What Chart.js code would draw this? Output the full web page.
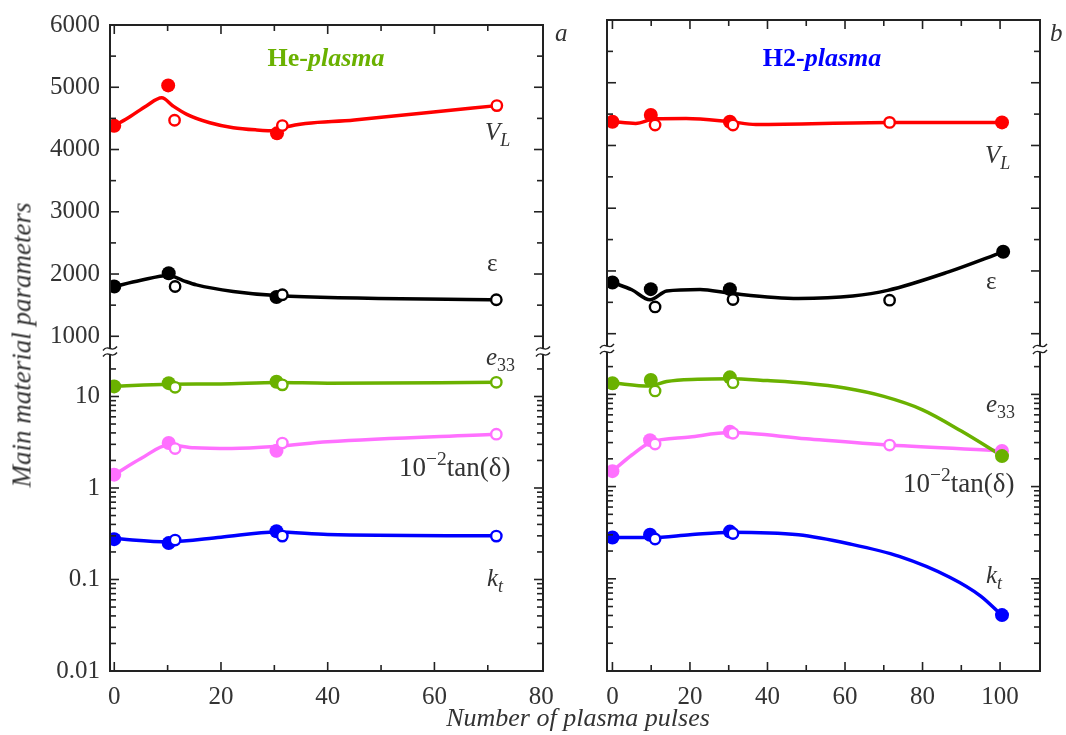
<!DOCTYPE html>
<html lang="en">
<head>
<meta charset="UTF-8">
<title>Main material parameters vs plasma pulses</title>
<script src="https://cdn.jsdelivr.net/npm/chart.js"></script>
<style>
    body { margin: 0; background: #fff; }
    #page { position: relative; width: 1066px; height: 735px; overflow: hidden; font-family: "Liberation Serif", serif; color: #333; }
    canvas { position: absolute; left: 0; top: 0; }
    .lbl { position: absolute; font-size: 25px; line-height: 1; white-space: nowrap; color: #333; }
    .lbl sub, .lbl sup { font-size: 0.72em; line-height: 0; }
    .lbl sub { vertical-align: -0.35em; }
    .lbl sup { vertical-align: 0.55em; }
    .tan { font-size: 27px; }
    .gas { position: absolute; font-size: 26px; font-weight: bold; line-height: 1; transform: translateX(-50%); white-space: nowrap; }
    .ytitle { position: absolute; left: 22px; top: 345px; font-size: 27px; font-style: italic; white-space: nowrap; transform: translate(-50%, -50%) rotate(-90deg); color: #333; }
    .xtitle { position: absolute; left: 578px; top: 705px; font-size: 26px; font-style: italic; white-space: nowrap; transform: translateX(-50%); color: #333; line-height: 1; }
</style>
</head>
<body>
<div id="page">
    <canvas id="chartHe" width="1066" height="735"></canvas>
    <canvas id="chartH2" width="1066" height="735"></canvas>

    <!-- panel a -->
    <div class="gas" style="left:326px; top:45px; color:#6ab100">He-<i>plasma</i></div>
    <div class="lbl" style="left:555px; top:20px"><i>a</i></div>
    <div class="lbl" style="left:485px; top:119px"><i>V</i><sub><i>L</i></sub></div>
    <div class="lbl" style="left:487px; top:250px">ε</div>
    <div class="lbl" style="left:486px; top:344px"><i>e</i><sub>33</sub></div>
    <div class="lbl tan" style="left:399px; top:454px">10<sup>−2</sup>tan(δ)</div>
    <div class="lbl" style="left:487px; top:565px"><i>k</i><sub><i>t</i></sub></div>

    <!-- panel b -->
    <div class="gas" style="left:822px; top:45px; color:#0000ff">H2-<i>plasma</i></div>
    <div class="lbl" style="left:1050px; top:20px"><i>b</i></div>
    <div class="lbl" style="left:985px; top:142px"><i>V</i><sub><i>L</i></sub></div>
    <div class="lbl" style="left:986px; top:268px">ε</div>
    <div class="lbl" style="left:986px; top:391px"><i>e</i><sub>33</sub></div>
    <div class="lbl tan" style="left:903px; top:470px">10<sup>−2</sup>tan(δ)</div>
    <div class="lbl" style="left:986px; top:562px"><i>k</i><sub><i>t</i></sub></div>

    <div class="ytitle">Main material parameters</div>
    <div class="xtitle">Number of plasma pulses</div>
</div>

<script>
    // ---- data ----
    // ticks
    const xTicksHe = [0, 20, 40, 60, 80];
    const xTicksH2 = [0, 20, 40, 60, 80, 100];
    const linTicks = [1000, 2000, 3000, 4000, 5000, 6000];
    const logTicks = [0.01, 0.1, 1, 10];

    // He-plasma (a): [pulses, value]
    const heVLFilled = [[0, 4380], [10.1, 5030], [30.5, 4260]];
    const heVLOpen = [[11.3, 4470], [31.5, 4385], [71.7, 4705]];
    const heVLFit = [[0, 4380], [3, 4530], [6, 4700], [8.9, 4830], [11, 4700], [13.6, 4565], [17.9, 4430], [22.3, 4350], [26.7, 4314], [30.5, 4300], [32.3, 4365], [45, 4475], [58, 4588], [71.7, 4705]];

    const heEpsFilled = [[0, 1800], [10.2, 2013], [30.4, 1630]];
    const heEpsOpen = [[11.4, 1800], [31.5, 1667], [71.6, 1587]];
    const heEpsFit = [[0, 1800], [4.8, 1895], [10.2, 1976], [12.9, 1895], [15.4, 1826], [22.3, 1721], [30.4, 1655], [71.6, 1587]];

    const heE33Filled = [[0, 12.9], [10.2, 14.0], [30.4, 14.5]];
    const heE33Open = [[11.4, 12.6], [31.5, 13.4], [71.6, 14.3]];
    const heE33Fit = [[0, 13.0], [10.2, 13.6], [20, 13.7], [30.5, 14.2], [40, 14.0], [71.6, 14.3]];

    const heTanFilled = [[0, 1.40], [10.2, 3.1], [30.4, 2.55]];
    const heTanOpen = [[11.4, 2.7], [31.5, 3.1], [71.6, 3.87]];
    const heTanFit = [[0, 1.4], [5, 2.1], [10.2, 2.95], [15, 2.75], [22, 2.7], [30.5, 2.85], [40, 3.2], [71.6, 3.87]];

    const heKtFilled = [[0, 0.276], [10.2, 0.25], [30.4, 0.337]];
    const heKtOpen = [[11.4, 0.27], [31.5, 0.298], [71.6, 0.298]];
    const heKtFit = [[0, 0.28], [10.2, 0.258], [20, 0.29], [30.4, 0.33], [40, 0.31], [71.6, 0.3]];

    // H2-plasma (b)
    const h2VLFilled = [[0, 4378], [9.9, 4485], [30.3, 4378], [100.5, 4368]];
    const h2VLOpen = [[11, 4325], [31.1, 4325], [71.5, 4368]];
    const h2VLFit = [[0, 4380], [6, 4352], [11, 4425], [19, 4430], [30.3, 4380], [37, 4336], [71.5, 4368], [100.5, 4368]];

    const h2EpsFilled = [[0, 1817], [9.9, 1710], [30.3, 1710], [100.8, 2305]];
    const h2EpsOpen = [[11, 1427], [31.1, 1545], [71.5, 1534]];
    const h2EpsFit = [[0, 1817], [5, 1700], [9.7, 1540], [14, 1680], [22.6, 1705], [30.3, 1645], [48, 1562], [62, 1600], [71, 1690], [86.7, 1985], [100.8, 2305]];

    const h2E33Filled = [[0, 13.2], [9.9, 14.3], [30.3, 15.3], [100.5, 2.14]];
    const h2E33Open = [[11, 10.9], [31.1, 13.4]];
    const h2E33Fit = [[0, 13.3], [9.5, 12.3], [14, 13.8], [22, 14.6], [30.3, 14.8], [40, 14.1], [50, 13.2], [60, 11.7], [70, 9.5], [80, 6.8], [90, 4.0], [100.5, 2.15]];

    const h2TanFilled = [[0, 1.47], [9.7, 3.19], [30.3, 3.93], [100.5, 2.43]];
    const h2TanOpen = [[11, 2.89], [31.1, 3.78], [71.5, 2.82]];
    const h2TanFit = [[0, 1.47], [5, 2.2], [9.7, 3.0], [20, 3.45], [30.5, 3.85], [50, 3.3], [71.5, 2.82], [100.5, 2.45]];

    const h2KtFilled = [[0, 0.28], [9.7, 0.30], [30.3, 0.325], [100.5, 0.0404]];
    const h2KtOpen = [[11, 0.27], [31.1, 0.31]];
    const h2KtFit = [[0, 0.28], [10, 0.28], [20, 0.3], [30.5, 0.32], [48, 0.3], [61, 0.24], [74, 0.175], [87, 0.104], [95, 0.065], [100.5, 0.04]];

    // ---- styling ----
    const RED = '#ff0000', BLACK = '#000000', GREEN = '#6ab100', PINK = '#ff70ff', BLUE = '#0000ff';
    const tickFont = { family: 'Liberation Serif', size: 25 };
    const axisColor = '#222';
    // broken y axis: linear part on top, log part below, stacked
    const linMin = 756, linMax = 6000;
    const logMin = 0.01, logMax = 31.05;
    const linWeight = 329, logWeight = 322;

    function toXY(pairs) {
        return pairs.map(p => ({ x: p[0], y: p[1] }));
    }

    // one parameter = fitted curve + open markers + filled markers
    function parameterSets(color, filled, open, fit, axis) {
        return [
            { data: toXY(fit), yAxisID: axis, borderColor: color, borderWidth: 3.5, pointRadius: 0,
              cubicInterpolationMode: 'monotone', fill: false, order: 3 },
            { data: toXY(open), yAxisID: axis, showLine: false, pointRadius: 5.2, pointBorderWidth: 2.4,
              pointBorderColor: color, pointBackgroundColor: '#fff', order: 1 },
            { data: toXY(filled), yAxisID: axis, showLine: false, pointRadius: 7, pointBorderWidth: 0,
              pointBackgroundColor: color, pointBorderColor: color, order: 2 }
        ];
    }

    // frame, inner ticks on all sides and the axis break marks
    const framePlugin = {
        id: 'frame',
        afterDatasetsDraw(chart) {
            const { ctx, chartArea: a, scales } = chart;
            const xs = scales.x, yl = scales.ylin, yg = scales.ylog;
            ctx.save();
            ctx.strokeStyle = axisColor;
            ctx.lineWidth = 2;
            ctx.strokeRect(a.left, a.top, a.right - a.left, a.bottom - a.top);

            ctx.lineWidth = 1.6;
            const seg = (x1, y1, x2, y2) => { ctx.beginPath(); ctx.moveTo(x1, y1); ctx.lineTo(x2, y2); ctx.stroke(); };

            for (let v = 0; v <= xs.max; v += 10) {
                const px = xs.getPixelForValue(v);
                if (px > a.right - 2) continue;
                const len = v % 20 === 0 ? 9 : 6;
                seg(px, a.bottom, px, a.bottom - len);
                seg(px, a.top, px, a.top + len);
            }
            for (let v = 1000; v <= 6000; v += 500) {
                const py = yl.getPixelForValue(v);
                const len = v % 1000 === 0 ? 9 : 6;
                seg(a.left, py, a.left + len, py);
                seg(a.right, py, a.right - len, py);
            }
            for (let e = -2; e <= 1; e++) {
                for (let m = 1; m <= 9; m++) {
                    const v = m * Math.pow(10, e);
                    if (v > 25) continue;
                    const py = yg.getPixelForValue(v);
                    const len = m === 1 ? 9 : 6;
                    seg(a.left, py, a.left + len, py);
                    seg(a.right, py, a.right - len, py);
                }
            }

            // break marks where the two y parts meet
            const yb = yl.bottom;
            [a.left, a.right].forEach(px => {
                ctx.fillStyle = '#fff';
                ctx.fillRect(px - 3, yb - 3, 6, 6);
                ctx.lineWidth = 1.4;
                [-3, 3].forEach(off => {
                    ctx.beginPath();
                    ctx.moveTo(px - 7, yb + off + 2);
                    ctx.bezierCurveTo(px - 2, yb + off - 5, px + 2, yb + off + 5, px + 7, yb + off - 2);
                    ctx.stroke();
                });
            });
            ctx.restore();
        }
    };

    function makeChart(canvasId, sets, xMin, xMax, xTicks, padLeft, padRight, showY) {
        const yCommon = {
            position: 'left',
            stack: 'params',
            grid: { display: false, drawTicks: false },
            border: { display: false },
            ticks: { display: showY, font: tickFont, color: '#333', padding: 10, callback: v => String(v) },
            afterFit: s => { s.width = showY ? 110 : 0; }
        };
        return new Chart(document.getElementById(canvasId), {
            type: 'line',
            data: { datasets: sets },
            options: {
                responsive: false,
                animation: false,
                events: [],
                layout: { padding: { top: 20, left: padLeft, right: padRight, bottom: 0 } },
                plugins: { legend: { display: false }, tooltip: { enabled: false } },
                scales: {
                    x: {
                        type: 'linear', min: xMin, max: xMax,
                        grid: { display: false, drawTicks: false },
                        border: { display: false },
                        ticks: { font: tickFont, color: '#333', padding: 11, maxRotation: 0, callback: v => String(v) },
                        afterBuildTicks: s => { s.ticks = xTicks.map(v => ({ value: v })); },
                        afterFit: s => { s.height = 64; }
                    },
                    ylin: Object.assign({}, yCommon, {
                        type: 'linear', min: linMin, max: linMax, weight: 2, stackWeight: linWeight,
                        afterBuildTicks: s => { s.ticks = linTicks.map(v => ({ value: v })); }
                    }),
                    ylog: Object.assign({}, yCommon, {
                        type: 'logarithmic', min: logMin, max: logMax, weight: 1, stackWeight: logWeight,
                        afterBuildTicks: s => { s.ticks = logTicks.map(v => ({ value: v })); }
                    })
                }
            },
            plugins: [framePlugin]
        });
    }

    const heSets = [].concat(
        parameterSets(RED, heVLFilled, heVLOpen, heVLFit, 'ylin'),
        parameterSets(BLACK, heEpsFilled, heEpsOpen, heEpsFit, 'ylin'),
        parameterSets(GREEN, heE33Filled, heE33Open, heE33Fit, 'ylog'),
        parameterSets(PINK, heTanFilled, heTanOpen, heTanFit, 'ylog'),
        parameterSets(BLUE, heKtFilled, heKtOpen, heKtFit, 'ylog')
    );
    const h2Sets = [].concat(
        parameterSets(RED, h2VLFilled, h2VLOpen, h2VLFit, 'ylin'),
        parameterSets(BLACK, h2EpsFilled, h2EpsOpen, h2EpsFit, 'ylin'),
        parameterSets(GREEN, h2E33Filled, h2E33Open, h2E33Fit, 'ylog'),
        parameterSets(PINK, h2TanFilled, h2TanOpen, h2TanFit, 'ylog'),
        parameterSets(BLUE, h2KtFilled, h2KtOpen, h2KtFit, 'ylog')
    );

    makeChart('chartHe', heSets, -0.8, 80.35, xTicksHe, 0, 523, true);
    makeChart('chartH2', h2Sets, -1.4, 110.3, xTicksH2, 607, 26, false);
</script>
</body>
</html>
